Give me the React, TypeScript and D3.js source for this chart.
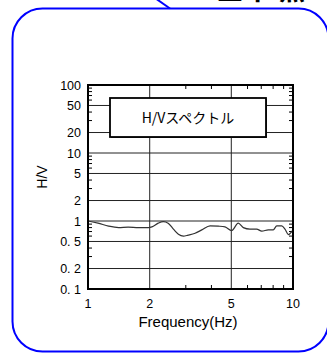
import React from "react";
import * as d3 from "d3";

// H/V spectrum
const freq = [1.0, 1.12, 1.26, 1.41, 1.57, 1.76, 1.97, 2.05, 2.2, 2.33, 2.46, 2.61, 2.76, 2.92, 3.08, 3.33, 3.59, 3.94, 4.32, 4.66, 5.02, 5.41, 5.72, 6.17, 6.65, 7.04, 7.58, 8.01, 8.33, 8.81, 9.14, 9.49, 9.86, 10];
const hv = [1.0, 0.93, 0.84, 0.8, 0.81, 0.8, 0.8, 0.82, 0.93, 0.98, 0.93, 0.76, 0.64, 0.6, 0.62, 0.66, 0.74, 0.85, 0.84, 0.82, 0.72, 0.93, 0.8, 0.76, 0.76, 0.71, 0.74, 0.74, 0.85, 0.85, 0.76, 0.63, 0.7, 0.74];

const xTicks = [1, 2, 5, 10];
const xLabels = ["1", "2", "5", "10"];
const yTicks = [100, 50, 20, 10, 5, 2, 1, 0.5, 0.2, 0.1];
const yLabels = ["100", "50", "20", "10", "5", "2", "1", "0. 5", "0. 2", "0. 1"];
const minorMult = [3, 4, 6, 7, 8, 9];
const legendLabel = "H/Vスペクトル";
const xTitle = "Frequency(Hz)";
const yTitle = "H/V";
const topChars = ["三", "卜", "点"];
const topCharX = [230, 260, 292];

const W = 327, H = 354;
const L = 88, R = 293, T = 85, B = 289;

export default function App() {
  const x = d3.scaleLog().domain([1, 10]).range([L, R]);
  const y = d3.scaleLog().domain([0.1, 100]).range([B, T]);

  const line = d3.line<number>()
    .x((d, i) => x(freq[i]))
    .y((d) => y(d))
    .curve(d3.curveMonotoneX);

  const yMinor: number[] = [];
  [0.1, 1, 10].forEach((dec) => minorMult.forEach((m) => yMinor.push(dec * m)));
  const yGrid = yTicks.filter((v) => v > 0.1 && v < 100);
  const xGrid = xTicks.filter((v) => v > 1 && v < 10);

  const font = "'Liberation Sans', Arial, sans-serif";

  return (
    <svg width={W} height={H} style={{ position: "absolute", left: 0, top: 0 }}>
      <rect width={W} height={H} fill="#fff" />
      {/* callout, cut off at the top of the picture */}
      <line x1={155} y1={-2} x2={170} y2={8.5} stroke="#0000ff" strokeWidth={2} />
      {topChars.map((c, i) => (
        <text key={c} x={topCharX[i]} y={-0.5} fontSize={26} fontWeight="bold" textAnchor="middle" fontFamily="'Noto Sans CJK JP'">{c}</text>
      ))}
      <rect x={12.5} y={8.5} width={316} height={343} rx={30} ry={30} fill="none" stroke="#0000ff" strokeWidth={2} />

      {/* grid */}
      {yGrid.map((v) => (
        <line key={"gy" + v} x1={L} x2={R} y1={y(v)} y2={y(v)} stroke="#222" strokeWidth={1} />
      ))}
      {xGrid.map((v) => (
        <line key={"gx" + v} x1={x(v)} x2={x(v)} y1={T} y2={B} stroke="#222" strokeWidth={1} />
      ))}
      {/* minor ticks */}
      {minorMult.map((v) => (
        <g key={"mx" + v} stroke="#000" strokeWidth={1}>
          <line x1={x(v)} x2={x(v)} y1={B} y2={B - 4} />
          <line x1={x(v)} x2={x(v)} y1={T} y2={T + 4} />
        </g>
      ))}
      {yMinor.map((v) => (
        <g key={"my" + v} stroke="#000" strokeWidth={1}>
          <line x1={L} x2={L + 4} y1={y(v)} y2={y(v)} />
          <line x1={R} x2={R - 4} y1={y(v)} y2={y(v)} />
        </g>
      ))}

      {/* legend */}
      <rect x={111} y={99} width={156} height={39} fill="#444" />
      <rect x={110} y={98} width={156} height={39} fill="#fff" stroke="#000" strokeWidth={1.8} />
      <text x={188} y={123} fontSize={14} textAnchor="middle" fontFamily="'Noto Sans CJK JP', sans-serif">{legendLabel}</text>

      {/* curve */}
      <path d={line(hv) || ""} fill="none" stroke="#333" strokeWidth={1.2} />

      {/* frame */}
      <rect x={L} y={T} width={R - L} height={B - T} fill="none" stroke="#000" strokeWidth={2} />

      {/* labels */}
      {yTicks.map((v, i) => (
        <text key={"ly" + v} x={81} y={y(v)} dy="0.36em" fontSize={12.5} textAnchor="end" fontFamily={font}>{yLabels[i]}</text>
      ))}
      {xTicks.map((v, i) => (
        <text key={"lx" + v} x={x(v)} y={308} fontSize={12.5} textAnchor="middle" fontFamily={font}>{xLabels[i]}</text>
      ))}
      <text x={188} y={327} fontSize={15} textAnchor="middle" fontFamily={font}>{xTitle}</text>
      <text transform="translate(47,177) rotate(-90)" fontSize={14} textAnchor="middle" fontFamily={font}>{yTitle}</text>
    </svg>
  );
}
